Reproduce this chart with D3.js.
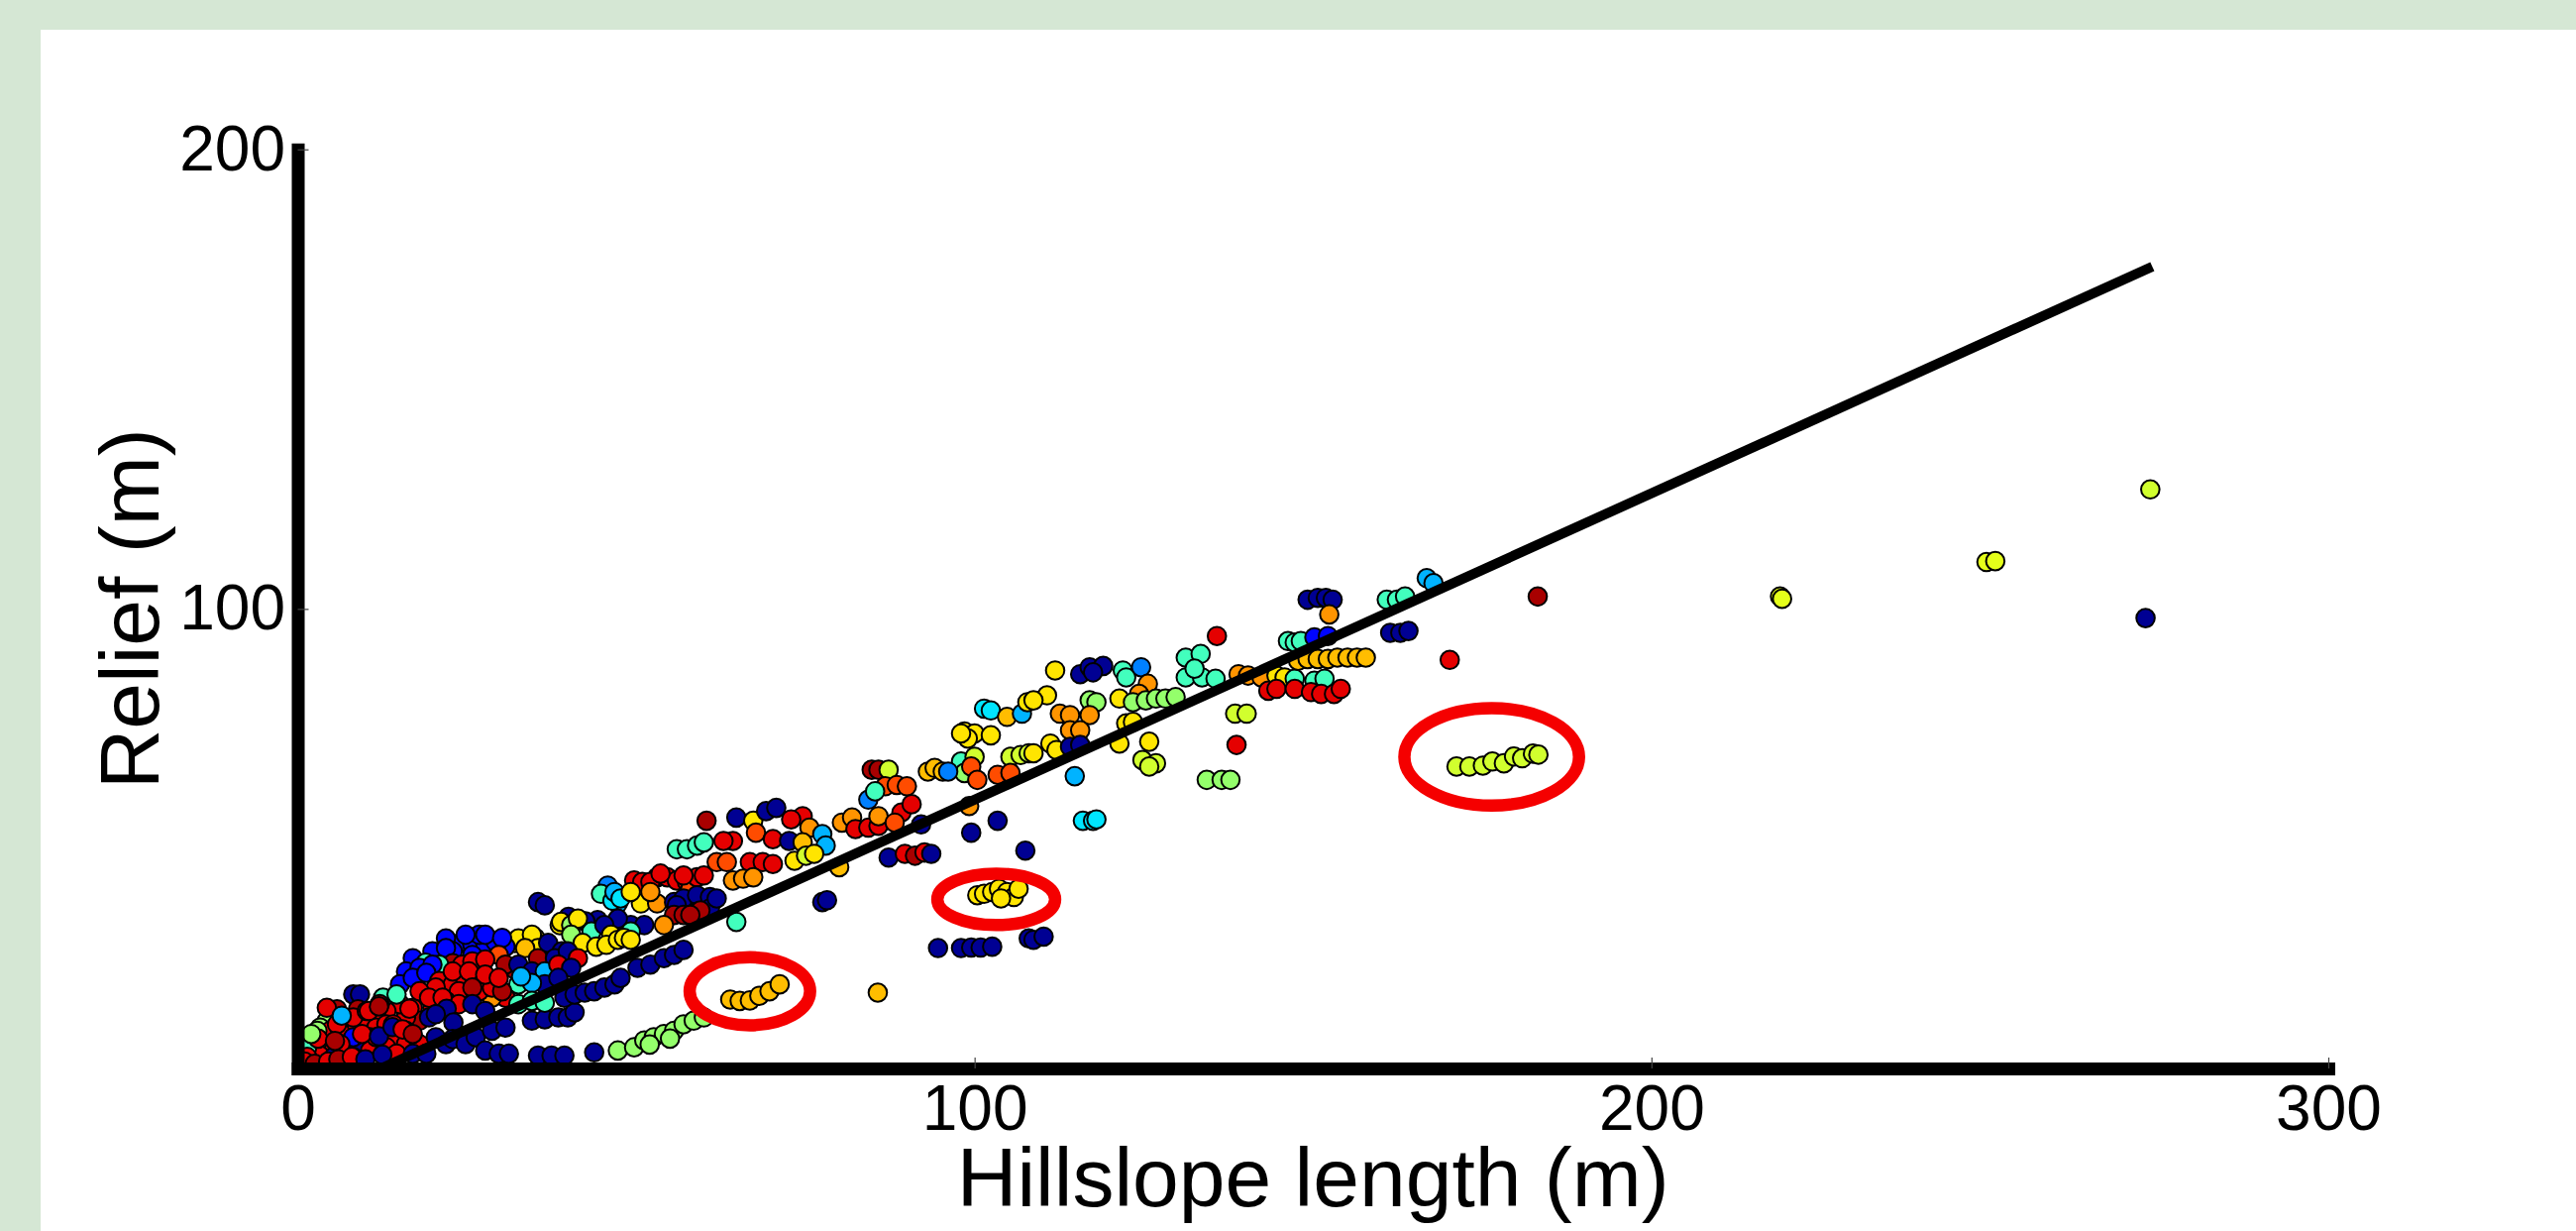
<!DOCTYPE html>
<html>
<head>
<meta charset="utf-8">
<script src="https://cdn.jsdelivr.net/npm/d3@7"></script>
<style>
    html, body { margin: 0; padding: 0; background: #d5e7d4; }
    svg { display: block; }
</style>
</head>
<body>
<div id="chart"></div>
<script>
// axis ticks
const xTicks = [0, 100, 200, 300];
const yTicks = [100, 200];

// each point: [hillslope length (m), relief (m), colour value 0..1 (jet)]
const bandPoints = [
    [60.4, 53.9, .96], [64.8, 54.6, .02], [67.3, 53.9, .65], [69.2, 56.0, .02], [70.7, 56.7, .02],
    [67.7, 51.3, .8], [64.3, 49.5, .9], [62.9, 49.5, .9], [70.2, 49.9, .9],
    [56.0, 47.7, .44], [57.5, 47.7, .44], [59.0, 48.5, .44], [60.0, 49.2, .44],
    [61.9, 44.9, .8], [63.4, 44.9, .8], [66.8, 44.9, .9], [68.7, 44.9, .9], [70.2, 44.5, .9],
    [64.3, 40.9, .73], [65.8, 41.3, .73], [67.3, 41.6, .73],
    [49.7, 40.9, .9], [50.9, 40.6, .9], [53.1, 41.6, .96], [54.6, 41.6, .9], [56.0, 40.9, .9],
    [57.5, 40.6, .9], [58.0, 39.1, .8], [59.0, 41.6, .9], [60.0, 42.0, .9],
    [52.1, 40.6, .9], [53.6, 42.4, .9], [57.0, 42.0, .9],
    [45.8, 39.8, .25], [44.8, 38.0, .44], [47.3, 35.9, .3], [46.5, 36.5, .35], [50.7, 35.9, .65], [53.1, 35.9, .73],
    [46.8, 38.4, .3], [47.7, 37.0, .35], [49.2, 38.4, .65], [52.1, 38.4, .73],
    [55.6, 36.2, .02], [57.0, 37.0, .02], [59.0, 37.7, .02], [60.9, 37.3, .02],
    [56.0, 35.5, .02], [60.9, 34.8, .02], [61.9, 37.0, .02],
    [55.6, 33.4, .96], [57.0, 33.4, .96], [59.0, 34.1, .9], [59.5, 34.4, .96], [58.0, 33.4, .96],
    [54.1, 31.2, .73], [49.2, 31.2, .02], [51.2, 31.2, .02], [47.3, 32.6, .02], [44.3, 32.3, .02],
    [35.5, 36.2, .02], [36.5, 35.5, .02],
    [38.7, 31.2, .65], [41.6, 32.3, .65], [40.0, 33.0, .02], [42.5, 32.0, .02],
    [38.9, 31.9, .65], [40.4, 31.2, .52], [43.4, 29.8, .44], [45.3, 31.2, .02], [46.3, 29.1, .65],
    [49.2, 29.8, .44], [41.4, 32.6, .65],
    [64.8, 31.9, .44], [40.4, 29.1, .52],
    [42.1, 27.3, .65], [44.1, 26.5, .65], [45.6, 26.9, .65], [47.3, 28.0, .65], [48.2, 28.4, .65], [49.2, 28.0, .65],
    [32.1, 27.3, .65], [33.6, 26.9, .65], [35.1, 28.4, .65], [36.0, 26.9, .65],
    [32.6, 28.3, .65], [34.6, 29.1, .65], [35.5, 26.2, .65], [33.6, 26.2, .69],
    [37.0, 27.3, .02], [39.0, 25.5, .02],
    [24.3, 27.6, .13], [25.8, 26.9, .13], [27.7, 27.3, .13], [29.2, 27.6, .13], [30.7, 26.5, .13],
    [21.9, 28.3, .13], [26.8, 29.1, .13], [22.9, 25.5, .13], [25.8, 24.7, .13],
    [17.0, 24.0, .13], [19.9, 25.5, .13], [21.9, 26.2, .13], [24.8, 29.1, .13], [27.7, 29.1, .13],
    [30.2, 28.4, .13], [18.0, 20.4, .13], [16.0, 21.1, .13], [18.9, 23.0, .44], [15.1, 18.3, .13],
    [29.7, 24.7, .8],
    [22.9, 22.9, .96], [24.3, 22.6, .9], [25.8, 23.3, .9], [27.7, 23.7, .9],
    [32.1, 21.5, .96], [35.5, 24.0, .96], [30.7, 22.6, .96],
    [38.0, 24.0, .02], [39.9, 25.5, .02], [41.4, 24.0, .9],
    [32.6, 22.6, .02], [34.6, 21.1, .02], [36.5, 21.1, .3], [38.5, 22.6, .9], [40.4, 21.9, .02],
    [32.6, 18.3, .44], [30.7, 15.4, .9], [28.7, 15.4, .73], [36.5, 18.3, .02], [38.5, 19.7, .02],
    [34.6, 18.6, .3], [33.0, 20.0, .3],
    [20.9, 22.6, .44], [18.0, 21.9, .13], [19.9, 22.6, .13], [17.0, 19.7, .13], [19.0, 20.8, .13],
    [20.9, 19.0, .9], [22.9, 18.3, .9], [24.8, 19.0, .9], [26.8, 16.8, .9], [28.7, 17.6, .9], [30.2, 16.8, .96],
    [20.4, 17.6, .9], [22.9, 21.1, .9], [25.3, 21.1, .9], [27.7, 20.4, .9], [29.7, 19.7, .9],
    [23.8, 16.8, .9], [25.8, 17.6, .96], [21.9, 14.7, .9], [23.8, 14.0, .9], [19.9, 13.2, .9], [17.0, 13.2, .9],
    [18.0, 16.8, .9], [19.4, 15.4, .9], [21.4, 15.4, .9],
    [25.8, 14.0, .02], [27.7, 12.5, .02],
    [18.0, 10.4, .96], [16.0, 11.1, .9],
    [15.1, 14.0, .9], [13.1, 12.5, .9], [11.6, 11.1, .9],
    [12.6, 15.4, .44], [14.6, 16.1, .44],
    [8.2, 16.1, .02], [9.2, 16.1, .02],
    [5.8, 12.9, .96], [8.9, 12.9, .96],
    [4.3, 10.4, .52], [3.3, 8.9, .52], [7.2, 10.4, .73],
    [4.8, 8.2, .9], [6.8, 7.5, .9], [8.7, 9.6, .9], [10.2, 8.9, .9], [11.6, 8.9, .9], [13.1, 9.6, .9],
    [4.3, 13.2, .9], [5.8, 9.6, .9], [8.2, 11.1, .9], [10.2, 12.5, .9], [12.1, 14.0, .96],
    [14.1, 9.6, .9], [16.0, 8.2, .9],
    [2.4, 5.3, .9], [3.8, 4.6, .9], [5.3, 3.9, .9], [7.2, 5.3, .9],
    [1.9, 3.2, .9], [3.3, 2.8, .9],
    [6.8, 3.9, .02], [9.2, 4.6, .02], [11.1, 5.3, .02], [10.7, 6.8, .13],
    [14.1, 6.8, .9], [16.0, 5.3, .9], [18.0, 5.3, .9],
    [10.7, 3.9, .9], [13.1, 4.6, .9], [8.2, 2.5, .9], [5.3, 2.5, .02], [1.4, 4.6, .44], [2.9, 8.2, .52],
    [1.4, 2.5, .9], [14.6, 3.2, .9], [11.6, 6.8, .96], [8.2, 6.8, .13], [6.3, 5.3, .9],
    [1.0, 1.5, .9], [2.5, 1.0, .96], [4.5, 1.5, .9], [6.0, 2.0, .96], [8.0, 2.5, .9], [10.0, 2.0, .02],
    [12.5, 3.0, .02], [3.0, 6.5, .9], [5.5, 6.0, .96], [9.5, 7.5, .9], [12.0, 7.0, .02], [14.0, 9.0, .02],
    [2.0, 7.5, .52], [6.5, 11.5, .3], [10.5, 12.5, .9], [12.0, 13.5, .96], [15.5, 8.5, .9], [17.0, 7.5, .96],
    [16.5, 13.0, .9], [22.0, 13.0, .02], [23.0, 10.0, .02]
];

const lowerPoints = [
    [19.4, 11.1, .02], [20.4, 11.8, .02],
    [20.4, 6.8, .02], [21.9, 5.3, .02], [22.9, 6.4, .02], [24.8, 5.3, .02], [26.3, 6.8, .02],
    [28.7, 8.2, .02], [30.7, 8.9, .02],
    [17.0, 3.2, .02], [19.0, 3.2, .02],
    [27.7, 3.9, .02], [29.7, 3.2, .02], [31.2, 3.2, .02],
    [34.6, 10.4, .02], [36.5, 10.7, .02], [38.5, 11.1, .02], [39.9, 11.1, .02], [40.9, 12.2, .02],
    [39.4, 15.4, .02], [40.9, 16.1, .02], [42.4, 16.5, .02], [43.8, 16.8, .02], [45.3, 17.6, .02],
    [46.8, 18.3, .02], [47.7, 19.7, .02],
    [32.6, 14.0, .44], [34.6, 14.7, .44], [36.5, 14.3, .44],
    [50.2, 21.9, .02], [52.1, 22.6, .02], [54.1, 24.0, .02], [55.6, 24.7, .02], [57.0, 25.8, .02],
    [35.5, 2.8, .02], [37.5, 2.8, .02], [39.4, 2.8, .02], [43.8, 3.5, .02],
    [47.3, 3.9, .52], [49.7, 4.6, .52], [51.2, 6.1, .52], [52.6, 6.8, .52], [54.1, 7.5, .52],
    [55.6, 8.2, .52], [57.0, 9.6, .52], [58.5, 10.4, .52], [60.0, 11.1, .52], [52.0, 5.2, .52], [55.0, 6.5, .52]
];

const midPoints = [
    [74.6, 54.9, .9], [75.6, 52.4, .73], [72.9, 54.2, .9], [72.6, 49.5, .02], [74.6, 49.2, .69],
    [73.4, 45.2, .65], [75.1, 46.3, .58], [77.5, 51.0, .3], [78.0, 48.5, .3], [76.3, 46.7, .65],
    [80.4, 53.5, .73], [81.9, 54.6, .73],
    [82.4, 52.1, .9], [84.3, 52.4, .9], [85.8, 52.8, .9], [85.8, 54.9, .73],
    [89.2, 55.7, .9], [90.7, 57.5, .9], [88.2, 53.5, .8], [84.3, 58.5, .25],
    [80.0, 43.8, .69],
    [87.3, 45.9, .02], [89.7, 46.7, .9], [91.2, 46.3, .96], [92.6, 47.0, .9], [93.6, 46.7, .02],
    [92.1, 53.1, .02], [99.2, 57.1, .73],
    [99.5, 51.3, .02], [103.4, 53.9, .02], [107.5, 47.4, .02],
    [116.0, 53.9, .35], [117.5, 53.9, .35], [118.0, 54.2, .35],
    [77.5, 36.2, .02], [78.2, 36.6, .02],
    [94.6, 26.2, .02], [98.0, 26.2, .02], [99.5, 26.3, .02], [100.9, 26.3, .02], [102.6, 26.5, .02],
    [108.0, 28.3, .02], [108.7, 28.0, .02], [110.2, 28.7, .02],
    [85.7, 16.5, .69],
    [101.4, 78.3, .35], [102.4, 77.9, .35], [104.8, 76.5, .69], [107.0, 77.2, .3], [107.8, 79.7, .65],
    [98.5, 73.3, .65], [100.0, 72.9, .65], [99.0, 71.8, .65], [102.4, 72.5, .65], [98.0, 72.9, .65],
    [105.3, 67.8, .58], [106.8, 68.2, .58], [108.0, 68.6, .58],
    [98.0, 66.8, .44], [98.5, 64.3, .52], [100.0, 67.8, .58],
    [99.5, 65.7, .8], [100.4, 62.8, .8], [103.4, 63.9, .8], [105.3, 64.3, .8],
    [84.8, 65.0, .96], [85.8, 65.0, .96], [87.3, 65.0, .58],
    [93.1, 64.6, .69], [94.1, 65.4, .69], [95.3, 64.6, .69], [96.1, 64.6, .25],
    [86.8, 61.4, .8], [88.5, 61.7, .8], [90.0, 61.4, .8], [85.3, 60.3, .44]
];

const upperPoints = [
    [111.9, 86.6, .65],
    [115.6, 85.8, .02], [117.0, 87.3, .02], [119.0, 87.6, .02], [117.5, 86.2, .02],
    [121.9, 86.6, .44], [122.4, 85.1, .44], [124.6, 87.3, .25],
    [125.6, 83.7, .73], [124.3, 81.5, .73],
    [110.7, 81.2, .65], [108.7, 80.1, .65],
    [117.0, 80.1, .52], [118.0, 79.7, .52],
    [121.4, 80.5, .65], [123.4, 79.7, .52], [125.3, 80.1, .52], [126.8, 80.5, .52], [128.2, 80.5, .52], [129.7, 80.8, .52],
    [112.6, 77.2, .73], [114.1, 76.9, .73], [117.0, 76.9, .73],
    [114.1, 73.6, .73], [115.6, 73.6, .73],
    [111.2, 70.7, .65], [112.1, 69.3, .65],
    [114.1, 70.0, .02], [115.6, 70.4, .02],
    [108.7, 68.6, .65],
    [121.4, 70.7, .65], [122.4, 75.1, .65], [123.4, 75.4, .65], [125.8, 71.1, .65],
    [124.8, 67.1, .58], [126.8, 66.4, .58], [125.8, 65.7, .58],
    [114.8, 63.6, .3],
    [131.2, 89.4, .44], [133.4, 90.2, .44], [131.2, 85.1, .44], [133.6, 85.1, .44], [135.6, 84.8, .44], [132.5, 87.0, .44],
    [135.8, 94.1, .9],
    [138.5, 77.2, .58], [140.2, 77.2, .58],
    [138.7, 70.4, .9],
    [134.3, 62.8, .52], [136.5, 62.8, .52], [137.8, 62.8, .52],
    [139.0, 85.8, .73], [140.4, 85.5, .73], [142.4, 85.1, .73],
    [144.6, 85.5, .65], [145.8, 85.1, .65],
    [147.3, 84.8, .44], [150.2, 84.4, .44], [151.7, 84.8, .44],
    [143.4, 82.2, .9], [144.6, 82.6, .9], [147.3, 82.6, .9], [149.7, 81.9, .9], [151.2, 81.5, .9], [153.1, 81.5, .9], [154.1, 82.6, .9],
    [146.3, 93.0, .44], [147.3, 92.7, .44], [148.2, 93.0, .44],
    [150.2, 93.8, .13], [152.2, 94.1, .13],
    [149.2, 102.0, .02], [150.7, 102.4, .02], [151.9, 102.4, .02], [152.9, 102.0, .02],
    [152.4, 98.8, .73],
    [147.8, 88.7, .69], [149.2, 89.1, .69], [150.7, 89.1, .69], [152.2, 89.1, .69],
    [153.6, 89.4, .69], [155.1, 89.4, .69], [156.5, 89.4, .69], [157.8, 89.4, .69],
    [160.9, 102.0, .44], [162.4, 102.0, .44], [163.6, 102.7, .44],
    [166.8, 106.7, .3], [167.8, 105.6, .3],
    [161.4, 94.8, .02], [162.9, 94.8, .02], [164.1, 95.2, .02]
];

const outlierPoints = [
    [170.2, 88.9, .9], [183.2, 102.7, .96],
    [219.0, 102.7, .6], [219.3, 102.2, .6],
    [249.5, 110.2, .6], [250.8, 110.4, .6],
    [273.7, 126.0, .58], [273.0, 98.0, .02]
];

// the three groups circled in red
const circledPoints = [
    [63.9, 15.0, .69], [65.3, 14.7, .69], [66.8, 14.8, .69], [68.2, 15.8, .69], [69.7, 16.8, .69], [71.2, 18.3, .69],
    [100.4, 37.7, .65], [101.4, 38.0, .65], [102.6, 38.4, .65], [103.6, 39.1, .65],
    [104.8, 38.4, .65], [105.8, 37.3, .65], [106.5, 39.1, .65], [103.9, 37.0, .65],
    [171.2, 65.7, .58], [173.1, 65.7, .58], [175.1, 65.9, .58], [176.5, 66.8, .58], [178.2, 66.4, .58],
    [179.7, 67.9, .58], [180.9, 67.5, .58], [182.5, 68.5, .58], [183.3, 68.3, .58]
];

// red rings: [centre length, centre relief, radius in length, radius in relief]
const rings = [
    [66.8, 16.8, 8.9, 7.4],
    [103.2, 36.8, 8.7, 5.6],
    [176.4, 67.8, 12.9, 10.6]
];

// fitted line end points
const fitLine = [[12.3, 0], [274, 174.5]];

const width = 2600;
const height = 1242;
const font = '"Liberation Sans", Arial, Helvetica, sans-serif';

const x = d3.scaleLinear().domain([0, 300]).range([300.5, 2350]);
const y = d3.scaleLinear().domain([0, 200]).range([1078, 150.7]);

// matplotlib style jet colormap
const jet = d3.scaleLinear()
    .domain([0, 0.125, 0.375, 0.625, 0.875, 1])
    .range(['#00007f', '#0000ff', '#00ffff', '#ffff00', '#ff0000', '#7f0000']);

const svg = d3.select('#chart').append('svg')
    .attr('width', width)
    .attr('height', height);

svg.append('rect')
    .attr('width', width)
    .attr('height', height)
    .style('fill', '#d5e7d4');

svg.append('rect')
    .attr('x', 41)
    .attr('y', 30)
    .attr('width', width - 41)
    .attr('height', height - 30)
    .style('fill', '#ffffff');

const allPoints = bandPoints.concat(lowerPoints, midPoints, upperPoints, outlierPoints, circledPoints);

svg.append('g')
    .selectAll('circle')
    .data(allPoints)
    .join('circle')
    .attr('cx', d => x(d[0]))
    .attr('cy', d => y(d[1]))
    .attr('r', 9.3)
    .style('fill', d => jet(d[2]))
    .style('stroke', '#000')
    .style('stroke-width', 2);

svg.append('path')
    .datum(fitLine)
    .attr('d', d3.line().x(d => x(d[0])).y(d => y(d[1])))
    .style('fill', 'none')
    .style('stroke', '#000')
    .style('stroke-width', 10);

// axes
const xAxis = svg.append('g')
    .attr('transform', 'translate(0,' + y(0) + ')')
    .call(d3.axisBottom(x).tickValues(xTicks).tickSize(-11).tickSizeOuter(0).tickPadding(17));

const yAxis = svg.append('g')
    .attr('transform', 'translate(' + x(0) + ',0)')
    .call(d3.axisLeft(y).tickValues(yTicks).tickSize(-11).tickSizeOuter(0).tickPadding(12.5));

[xAxis, yAxis].forEach(g => {
    g.select('.domain')
        .style('stroke', '#000')
        .style('stroke-width', 13)
        .style('stroke-linecap', 'square');
    g.selectAll('.tick line')
        .style('stroke', '#444')
        .style('stroke-width', 1.2);
    g.selectAll('.tick text')
        .style('font-family', font)
        .style('font-size', '64px')
        .style('fill', '#000');
});

// axis titles
svg.append('text')
    .attr('x', (x(0) + x(300)) / 2)
    .attr('y', 1217)
    .attr('text-anchor', 'middle')
    .style('font-family', font)
    .style('font-size', '84px')
    .text('Hillslope length (m)');

svg.append('text')
    .attr('transform', 'translate(160,' + (y(0) + y(200)) / 2 + ') rotate(-90)')
    .attr('text-anchor', 'middle')
    .style('font-family', font)
    .style('font-size', '84px')
    .text('Relief (m)');

// red rings round the three groups
svg.append('g')
    .selectAll('ellipse')
    .data(rings)
    .join('ellipse')
    .attr('cx', d => x(d[0]))
    .attr('cy', d => y(d[1]))
    .attr('rx', d => x(d[0] + d[2]) - x(d[0]))
    .attr('ry', d => y(d[1]) - y(d[1] + d[3]))
    .style('fill', 'none')
    .style('stroke', '#f50000')
    .style('stroke-width', 12.5);
</script>
</body>
</html>
